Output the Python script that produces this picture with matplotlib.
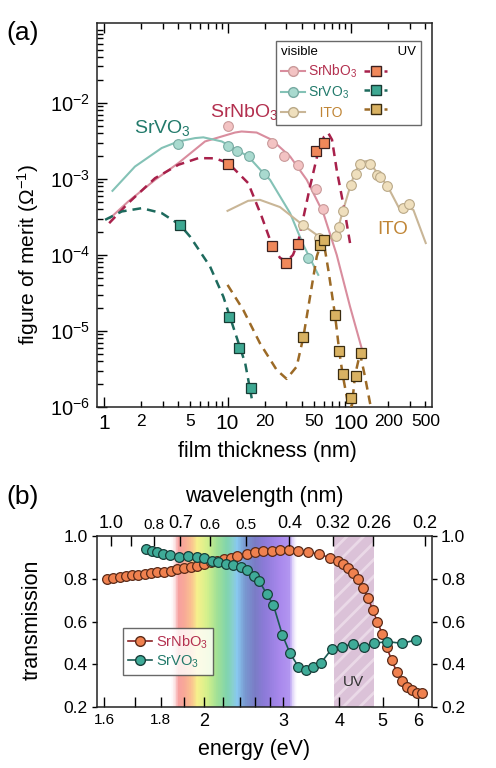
import numpy as np
import matplotlib
matplotlib.use("Agg")
import matplotlib.pyplot as plt
from matplotlib.lines import Line2D
from matplotlib.colors import LinearSegmentedColormap
from matplotlib.ticker import NullLocator, NullFormatter, FixedLocator

plt.rcParams['font.family'] = ['Liberation Sans', 'DejaVu Sans']
plt.rcParams['mathtext.fontset'] = 'custom'
plt.rcParams['mathtext.rm'] = 'Liberation Sans'
plt.rcParams['mathtext.default'] = 'regular'
plt.rcParams['hatch.linewidth'] = 2.0

# ---------------- panel (a): figure of merit vs thickness ----------------
# measured points (visible = circles, UV = squares)
nb_vis_t = [10.0, 22.8, 28.7, 37.0, 52.1, 59.7]
nb_vis_f = [4.98e-3, 2.95e-3, 2.01e-3, 1.53e-3, 7.4e-4, 4.0e-4]
v_vis_t = [4.0, 10.0, 11.9, 15.0, 19.8, 45.1]
v_vis_f = [2.89e-3, 2.72e-3, 2.29e-3, 1.97e-3, 1.16e-3, 9.2e-5]
ito_vis_t = [40.6, 55.4, 75.6, 79.9, 85.7, 99.4, 109, 118, 142, 161, 172, 197, 265, 295]
ito_vis_f = [2.48e-4, 1.66e-4, 1.78e-4, 2.31e-4, 3.72e-4, 8.34e-4, 1.15e-3, 1.56e-3,
             1.56e-3, 1.13e-3, 1.07e-3, 8.16e-4, 4.19e-4, 4.69e-4]
nb_uv_t = [10.0, 23.1, 29.6, 37.2, 52.1, 60.4]
nb_uv_f = [1.58e-3, 1.30e-4, 7.78e-5, 1.39e-4, 2.29e-3, 2.95e-3]
v_uv_t = [4.12, 10.3, 12.3, 15.4]
v_uv_f = [2.48e-4, 1.51e-5, 6.03e-6, 1.79e-6]
ito_uv_t = [41.1, 56.1, 60.4, 74.2, 80.4, 85.7, 99.4, 110, 120]
ito_uv_f = [8.26e-6, 1.35e-4, 1.58e-4, 1.63e-5, 5.46e-6, 2.69e-6, 1.32e-6, 2.58e-6, 5.09e-6]

# model curves
nb_fit_t = [1.12, 1.57, 2.59, 4.0, 6.57, 11.5, 13.0, 17.2, 22.8, 32.1, 43.8, 59.7, 76.6, 98.2, 122]
nb_fit_f = [3.04e-4, 5.03e-4, 9.7e-4, 1.61e-3, 3.10e-3, 4.06e-3, 4.19e-3, 4.06e-3, 3.26e-3,
            1.97e-3, 9.7e-4, 3.54e-4, 1.0e-4, 2.09e-5, 5.92e-6]
nb_uvfit_t = [1.10, 1.57, 2.59, 4.0, 5.8, 7.9, 10.15, 14.7, 18.9, 23.1, 26.6, 30.1, 33.9,
              37.4, 46.6, 54.3, 60.4, 65.5, 70.2, 76.6, 89.4, 98.2]
nb_uvfit_f = [2.61e-4, 4.79e-4, 1.02e-3, 1.53e-3, 1.87e-3, 1.86e-3, 1.61e-3, 8.78e-4, 3.19e-4,
              1.29e-4, 9.14e-5, 8.17e-5, 1.0e-4, 1.50e-4, 7.92e-4, 2.29e-3, 3.57e-3, 3.99e-3,
              3.26e-3, 1.31e-3, 3.54e-4, 1.43e-4]
v_fit_t = [1.17, 1.78, 2.93, 4.0, 5.46, 6.37, 8.98, 14.7, 19.5, 22.1, 32.1, 41.1, 54.3]
v_fit_f = [6.95e-4, 1.45e-3, 2.54e-3, 3.10e-3, 3.43e-3, 3.51e-3, 3.10e-3, 1.97e-3, 1.19e-3,
           9.7e-4, 3.54e-4, 1.35e-4, 5.46e-5]
v_uvfit_t = [1.02, 1.39, 2.02, 2.93, 4.12, 4.97, 7.22, 9.25, 11.1, 13.9, 15.7]
v_uvfit_f = [2.89e-4, 3.72e-4, 4.11e-4, 3.54e-4, 2.48e-4, 1.74e-4, 7.02e-5, 2.82e-5, 1.14e-5,
             3.76e-6, 1.30e-6]
ito_fit_t = [10.0, 14.7, 18.3, 26.6, 40.6, 52.8, 63.6, 75.6, 85.7, 99.4, 109, 122, 137, 161,
             197, 249, 279, 320, 403]
ito_fit_f = [3.79e-4, 5.14e-4, 5.29e-4, 4.25e-4, 2.48e-4, 1.83e-4, 1.61e-4, 1.78e-4, 3.72e-4,
             8.34e-4, 1.27e-3, 1.67e-3, 1.72e-3, 1.24e-3, 8.1e-4, 3.91e-4, 4.28e-4, 3.91e-4, 1.43e-4]
ito_uvfit_t = [10.0, 13.4, 18.3, 25.0, 30.1, 36.3, 41.1, 46.6, 52.8, 56.1, 59.7, 65.5, 74.2,
               80.4, 85.7, 92.3, 96.3, 101.9, 107.7, 118.3, 129.8, 142.5, 147.9]
ito_uvfit_f = [4.03e-5, 1.89e-5, 6.89e-6, 3.07e-6, 2.34e-6, 3.39e-6, 8.26e-6, 2.82e-5, 9.5e-5,
               1.29e-4, 1.57e-4, 6.35e-5, 1.63e-5, 5.34e-6, 2.63e-6, 1.37e-6, 9.1e-7, 1.06e-6,
               2.58e-6, 5.09e-6, 2.50e-6, 1.13e-6, 8.6e-7]

# ---------------- panel (b): transmission vs energy ----------------
nb_E = [1.214, 1.256, 1.300, 1.341, 1.385, 1.428, 1.478, 1.524, 1.575, 1.629, 1.686, 1.744,
        1.805, 1.868, 1.933, 2.000, 2.069, 2.142, 2.216, 2.293, 2.373, 2.489, 2.598, 2.711,
        2.830, 2.953, 3.098, 3.245, 3.416, 3.613, 3.816, 3.983, 4.087, 4.193, 4.302, 4.413,
        4.528, 4.645, 4.750, 4.864, 4.991, 5.103, 5.236, 5.372, 5.511, 5.655, 5.801, 5.951, 6.106]
nb_T = [0.797, 0.802, 0.807, 0.811, 0.816, 0.819, 0.822, 0.825, 0.830, 0.833, 0.838, 0.844,
        0.849, 0.855, 0.861, 0.869, 0.877, 0.885, 0.891, 0.899, 0.906, 0.916, 0.924, 0.928,
        0.931, 0.933, 0.933, 0.930, 0.925, 0.914, 0.899, 0.885, 0.869, 0.850, 0.828, 0.797,
        0.755, 0.708, 0.654, 0.599, 0.542, 0.479, 0.420, 0.365, 0.323, 0.295, 0.280, 0.267, 0.267]
v_E = [1.482, 1.529, 1.569, 1.623, 1.680, 1.759, 1.846, 1.926, 2.000, 2.080, 2.153, 2.239,
       2.325, 2.414, 2.489, 2.589, 2.656, 2.758, 2.854, 2.989, 3.109, 3.245, 3.369, 3.504,
       3.644, 3.849, 4.052, 4.302, 4.552, 4.783, 5.121, 5.511, 5.932]
v_T = [0.939, 0.931, 0.924, 0.914, 0.910, 0.903, 0.906, 0.903, 0.896, 0.885, 0.877, 0.869,
       0.864, 0.853, 0.841, 0.813, 0.788, 0.729, 0.677, 0.537, 0.451, 0.389, 0.373, 0.386,
       0.407, 0.471, 0.482, 0.495, 0.482, 0.498, 0.506, 0.498, 0.513]

# wavelength ticks on top (labelled as in the original), energy ticks on bottom
wl_ticks = [1.0, 0.9, 0.8, 0.7, 0.6, 0.5, 0.4, 0.32, 0.26, 0.2]
wl_labels = ['1.0', '', '0.8', '0.7', '0.6', '0.5', '0.4', '0.32', '0.26', '0.2']
wl_small = ['0.8', '0.6', '0.5']
e_ticks = [1.2, 1.4, 1.6, 1.8, 2.0, 2.2, 2.4, 2.6, 2.8, 3.0, 4.0, 5.0, 6.0]
e_labels = ['1.6', '', '1.8', '', '2', '', '', '', '', '3', '4', '5', '6']
uv_band = (3.9, 4.78)
rainbow_E = [1.68, 1.75, 1.80, 1.87, 1.93, 2.03, 2.14, 2.25, 2.32, 2.37, 2.47, 2.60, 2.73,
             2.95, 3.11, 3.24]
rainbow_c = [(1, 1, 1, 0), '#f7a0a0', '#f8a898', '#fac090', '#f6f08c', '#d4f08c', '#a0e096',
             '#80d4ae', '#88d0d0', '#88c8f0', '#7898d0', '#7a7cc6', '#8c7ad8', '#a888ec',
             '#b296f0', (1, 1, 1, 0)]

# colours
c_nb_line, c_nb_face, c_nb_edge = '#d98d9e', '#f3c3c3', '#c99a9a'
c_v_line, c_v_face, c_v_edge = '#84c2b6', '#a9dacf', '#77aaa2'
c_ito_line, c_ito_face, c_ito_edge = '#c9b697', '#efdfbd', '#b9a887'
c_nb_dash, c_nb_sq = '#a8214b', '#f0885a'
c_v_dash, c_v_sq = '#1d6a5d', '#3ea892'
c_ito_dash, c_ito_sq = '#9c6a26', '#d9b262'
c_nb_txt, c_v_txt, c_ito_txt = '#b3304f', '#227a6b', '#c08535'

fig = plt.figure(figsize=(4.96, 7.68), dpi=100)
ax = fig.add_axes([0.1956, 0.4701, 0.6754, 0.5])

lw_fit = 1.5
ax.plot(nb_fit_t, nb_fit_f, color=c_nb_line, lw=lw_fit, zorder=2)
ax.plot(v_fit_t, v_fit_f, color=c_v_line, lw=lw_fit, zorder=2)
ax.plot(ito_fit_t, ito_fit_f, color=c_ito_line, lw=lw_fit, zorder=2)
dash = (3.5, 2.4)
ax.plot(nb_uvfit_t, nb_uvfit_f, color=c_nb_dash, lw=1.8, dashes=dash, zorder=3)
ax.plot(v_uvfit_t, v_uvfit_f, color=c_v_dash, lw=1.8, dashes=dash, zorder=3)
ax.plot(ito_uvfit_t, ito_uvfit_f, color=c_ito_dash, lw=1.8, dashes=dash, zorder=3)

ms = 7
ax.plot(nb_vis_t, nb_vis_f, 'o', ms=ms, mfc=c_nb_face, mec=c_nb_edge, mew=0.8, zorder=4)
ax.plot(v_vis_t, v_vis_f, 'o', ms=ms, mfc=c_v_face, mec=c_v_edge, mew=0.8, zorder=4)
ax.plot(ito_vis_t, ito_vis_f, 'o', ms=ms, mfc=c_ito_face, mec=c_ito_edge, mew=0.8, zorder=4)
ax.plot(nb_uv_t, nb_uv_f, 's', ms=7, mfc=c_nb_sq, mec='#3a2020', mew=0.9, zorder=5)
ax.plot(v_uv_t, v_uv_f, 's', ms=7, mfc=c_v_sq, mec='#173a33', mew=0.9, zorder=5)
ax.plot(ito_uv_t, ito_uv_f, 's', ms=7, mfc=c_ito_sq, mec='#3a2c10', mew=0.9, zorder=5)

ax.set_xscale('log')
ax.set_yscale('log')
ax.set_xlim(0.877, 453)
ax.set_ylim(1e-6, 0.112)

ax.set_xticks([1, 10, 100])
ax.set_xticklabels(['1', '10', '100'], fontsize=15)
minor_x = [2, 3, 4, 5, 6, 7, 8, 9, 20, 30, 40, 50, 60, 70, 80, 90, 200, 300, 400]
minor_lab = ['2', '', '', '5', '', '', '', '', '20', '', '', '50', '', '', '', '', '200', '', '500']
ax.xaxis.set_minor_locator(FixedLocator(minor_x))
ax.set_xticklabels(minor_lab, minor=True, fontsize=12.5)
ax.set_yticks([1e-6, 1e-5, 1e-4, 1e-3, 1e-2])
ax.set_yticklabels(['$10^{-6}$', '$10^{-5}$', '$10^{-4}$', '$10^{-3}$', '$10^{-2}$'], fontsize=14.5)
ax.yaxis.set_minor_formatter(NullFormatter())
ax.tick_params(which='both', direction='in', top=True, right=False, width=1.0)
ax.tick_params(which='major', length=7)
ax.tick_params(which='minor', length=4)
ax.tick_params(axis='x', which='both', pad=5)
ax.tick_params(axis='y', which='both', pad=5)
for s in ax.spines.values():
    s.set_linewidth(1.1)
    s.set_color('#222222')

ax.set_xlabel('film thickness (nm)', fontsize=15.5)
ax.xaxis.set_label_coords(0.51, -0.117)
ax.xaxis.label.set_va('center')
ax.set_ylabel('figure of merit (Ω$^{-1}$)', fontsize=15)
ax.yaxis.set_label_coords(-0.206, 0.398)
ax.yaxis.label.set_va('center')

ax.text(2.98, 4.7e-3, 'SrVO$_3$', color=c_v_txt, fontsize=14, ha='center', va='center')
ax.text(13.7, 7.6e-3, 'SrNbO$_3$', color=c_nb_txt, fontsize=14, ha='center', va='center')
ax.text(219, 2.13e-4, 'ITO', color=c_ito_txt, fontsize=13.5, ha='center', va='center')

handles = [
    Line2D([], [], color=c_nb_line, lw=1.5, marker='o', ms=7, mfc=c_nb_face, mec=c_nb_edge),
    Line2D([], [], color=c_v_line, lw=1.5, marker='o', ms=7, mfc=c_v_face, mec=c_v_edge),
    Line2D([], [], color=c_ito_line, lw=1.5, marker='o', ms=7, mfc=c_ito_face, mec=c_ito_edge),
    Line2D([], [], color=c_nb_dash, lw=1.8, dashes=(2.2, 1.8), marker='s', ms=7, mfc=c_nb_sq, mec='#3a2020'),
    Line2D([], [], color=c_v_dash, lw=1.8, dashes=(2.2, 1.8), marker='s', ms=7, mfc=c_v_sq, mec='#173a33'),
    Line2D([], [], color=c_ito_dash, lw=1.8, dashes=(2.2, 1.8), marker='s', ms=7, mfc=c_ito_sq, mec='#3a2c10'),
]
labels = ['SrNbO$_3$', 'SrVO$_3$', '   ITO', '', '', '']
leg = ax.legend(handles, labels, ncol=2, loc='upper right', bbox_to_anchor=(0.967, 0.953),
                fontsize=10, title='visible                      UV', title_fontsize=9.5,
                alignment='left', frameon=True, fancybox=False, edgecolor='#444444',
                handlelength=1.7, handletextpad=0.25, columnspacing=0.45, labelspacing=0.35,
                borderpad=0.35, borderaxespad=0)
leg.get_frame().set_linewidth(1.0)
for t, c in zip(leg.get_texts(), [c_nb_txt, c_v_txt, c_ito_txt]):
    t.set_color(c)

fig.text(0.012, 0.957, '(a)', fontsize=19, va='center')

# ---------------- panel (b) ----------------
bx = fig.add_axes([0.1956, 0.0794, 0.6754, 0.2227])
bx.set_xscale('log')
bx.set_xlim(1.155, 6.44)
bx.set_ylim(0.2, 1.0)

# visible rainbow band
lo, hi = np.log10(rainbow_E[0]), np.log10(rainbow_E[-1])
stops = [((np.log10(e) - lo) / (hi - lo), c) for e, c in zip(rainbow_E, rainbow_c)]
cmap = LinearSegmentedColormap.from_list('vis', stops)
edges = np.geomspace(rainbow_E[0], rainbow_E[-1], 200)
mids = (np.log10(edges[:-1]) + np.log10(edges[1:])) / 2
bx.pcolormesh(edges, [0.2, 1.0], ((mids - lo) / (hi - lo))[None, :], cmap=cmap,
              vmin=0, vmax=1, shading='flat', zorder=0, rasterized=True)
# UV band
bx.axvspan(uv_band[0], uv_band[1], facecolor='#dbc2d8', edgecolor='#ead9e7', hatch='//',
           linewidth=0, zorder=0)
bx.text(4.3, 0.315, 'UV', fontsize=11, ha='center', va='center', color='#333333')

bx.plot(nb_E, nb_T, '-o', color='#8a2222', lw=1.2, ms=7, mfc='#f0814f', mec='#5a2a18',
        mew=0.9, zorder=3)
bx.plot(v_E, v_T, '-o', color='#1b5a53', lw=1.2, ms=7, mfc='#3fab98', mec='#183f3a',
        mew=0.9, zorder=3)

bx.xaxis.set_major_locator(FixedLocator(e_ticks))
bx.xaxis.set_minor_locator(NullLocator())
bx.set_xticklabels(e_labels)
for lab, txt in zip(bx.get_xticklabels(), e_labels):
    lab.set_fontsize(11 if txt in ('1.6', '1.8') else 13)
bx.set_yticks([0.2, 0.4, 0.6, 0.8, 1.0])
bx.set_yticklabels(['0.2', '0.4', '0.6', '0.8', '1.0'], fontsize=12.5)
bx.tick_params(axis='x', direction='in', length=7, width=1.0, pad=4)
bx.tick_params(axis='y', direction='out', length=3.5, width=1.0, pad=3, right=True,
               labelright=True)
for s in bx.spines.values():
    s.set_linewidth(1.1)
    s.set_color('#222222')

bt = bx.twiny()
bt.set_xscale('log')
bt.set_xlim(bx.get_xlim())
bt.xaxis.set_major_locator(FixedLocator([1.2398 / w for w in wl_ticks]))
bt.xaxis.set_minor_locator(NullLocator())
bt.set_xticklabels(wl_labels)
for lab, txt in zip(bt.get_xticklabels(), wl_labels):
    lab.set_fontsize(11 if txt in wl_small else 13)
bt.tick_params(axis='x', direction='in', length=7, width=1.0, pad=3)
for s in bt.spines.values():
    s.set_visible(False)

bx.set_xlabel('energy (eV)', fontsize=15.5)
bx.xaxis.set_label_coords(0.47, -0.251)
bx.xaxis.label.set_va('center')
bx.set_ylabel('transmission', fontsize=15.5)
bx.yaxis.set_label_coords(-0.194, 0.509)
bx.yaxis.label.set_va('center')
bt.set_xlabel('wavelength (nm)', fontsize=15.5)
bt.xaxis.set_label_coords(0.50, 1.228)
bt.xaxis.label.set_va('center')

bh = [
    Line2D([], [], color='#8a2222', lw=1.2, marker='o', ms=7, mfc='#f0814f', mec='#5a2a18'),
    Line2D([], [], color='#1b5a53', lw=1.2, marker='o', ms=7, mfc='#3fab98', mec='#183f3a'),
]
bleg = bx.legend(bh, ['SrNbO$_3$', 'SrVO$_3$'], loc='lower left', bbox_to_anchor=(0.078, 0.187),
                 fontsize=10.5, frameon=True, fancybox=False, edgecolor='#444444',
                 handlelength=1.6, handletextpad=0.3, labelspacing=0.2, borderpad=0.35,
                 borderaxespad=0)
bleg.get_frame().set_linewidth(1.0)
for t, c in zip(bleg.get_texts(), [c_nb_txt, c_v_txt]):
    t.set_color(c)

fig.text(0.012, 0.353, '(b)', fontsize=19, va='center')

fig.savefig('out.png', dpi=100)
